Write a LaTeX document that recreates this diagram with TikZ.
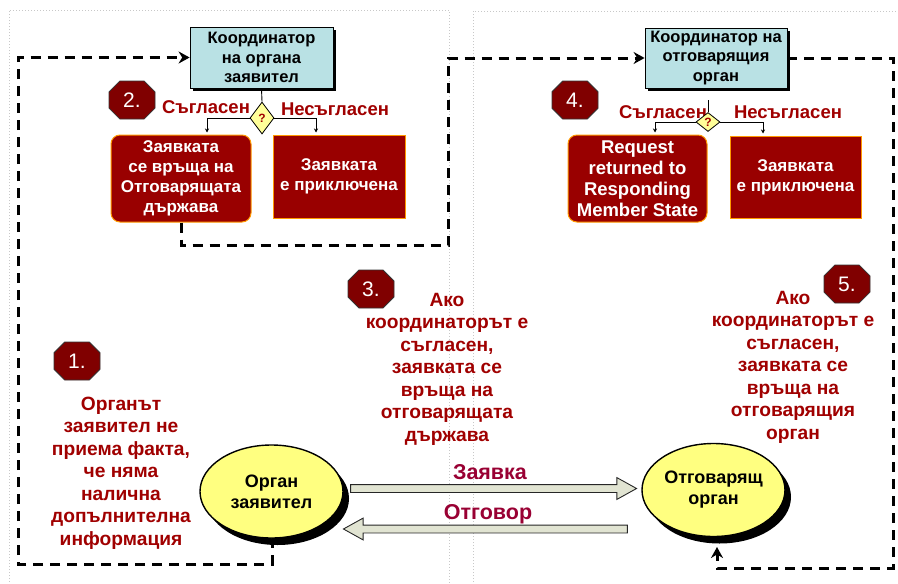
\documentclass[tikz,border=0pt]{standalone}
\usepackage{fontspec}
\setmainfont{Liberation Sans}
\usetikzlibrary{positioning,shapes.geometric,shapes.misc,shapes.arrows,shadows,arrows.meta}

\definecolor{boxred}{RGB}{153,0,0}
\definecolor{octred}{RGB}{128,0,0}
\definecolor{txtred}{RGB}{160,0,0}
\definecolor{arrlabel}{RGB}{153,0,51}
\definecolor{coordblue}{RGB}{185,225,228}
\definecolor{orgyellow}{RGB}{255,255,128}
\definecolor{qyellow}{RGB}{255,255,153}
\definecolor{arrfill}{RGB}{225,228,210}
\definecolor{panelgray}{RGB}{200,200,200}
\definecolor{boxedge}{RGB}{255,153,0}

\tikzset{
  panel/.style={draw=panelgray, line width=1pt, dotted},
  loopline/.style={line width=3pt, dash pattern=on 10pt off 7pt},
  looptip/.style={-{Stealth[length=11pt,width=12pt]}},
  coordbox/.style={draw, line width=0.8pt, fill=coordblue, minimum width=143pt,
    minimum height=61pt, align=center, inner sep=2pt,
    font=\fontsize{16.5}{19.5}\selectfont\bfseries,
    drop shadow={shadow xshift=3pt, shadow yshift=-3pt, fill=black, opacity=1}},
  agreebox/.style={draw=boxedge, line width=1pt, fill=boxred, rounded corners=9pt,
    text=white, align=center, minimum width=140pt, minimum height=87pt, inner sep=1pt,
    font=\fontsize{17}{20}\selectfont\bfseries},
  closedbox/.style={draw=boxedge, line width=1pt, fill=boxred, text=white,
    align=center, minimum width=132pt, minimum height=83pt, inner sep=1pt,
    font=\fontsize{17}{20}\selectfont\bfseries},
  question/.style={diamond, draw, line width=0.8pt, fill=qyellow, text=txtred,
    minimum width=24pt, inner sep=0pt, font=\fontsize{12}{12}\selectfont\bfseries},
  decline/.style={line width=0.9pt},
  dectip/.style={-{Stealth[length=4pt,width=4pt]}, shorten >=2pt},
  choice/.style={text=txtred, inner sep=0pt, font=\fontsize{18.5}{20}\selectfont\bfseries},
  numoct/.style={chamfered rectangle, chamfered rectangle xsep=11pt, draw=black!80,
    line width=0.8pt, fill=octred, text=white, minimum width=46pt, minimum height=38pt,
    inner sep=0pt, font=\fontsize{21}{21}\selectfont},
  note/.style={text=txtred, align=center, inner sep=0pt,
    font=\fontsize{19.2}{22.5}\selectfont\bfseries},
  organ/.style={ellipse, draw, line width=1.4pt, fill=orgyellow, minimum width=143pt,
    minimum height=93pt, align=center, inner sep=0pt,
    font=\fontsize{18}{21}\selectfont\bfseries,
    drop shadow={shadow xshift=6pt, shadow yshift=-7pt, fill=black, opacity=1}},
  blockarr/.style={single arrow, draw=black!85, fill=arrfill, line width=0.9pt,
    minimum height=286pt, inner xsep=0pt, inner ysep=3.5pt,
    single arrow head extend=7pt, single arrow tip angle=58},
  arrlab/.style={text=arrlabel, inner sep=0pt, font=\fontsize{21.5}{21.5}\selectfont\bfseries}
}

\begin{document}
\begin{tikzpicture}[x=1pt,y=-1pt]
  \useasboundingbox (0,0) rectangle (898,584);
  % panels
  \draw[panel] (9,600) -- (9,10) -- (449,10) -- (449,600);
  \draw[panel] (473,600) -- (473,11) -- (910,11);

  % coordinators and decisions
  \node[coordbox] (coordL) at (261.5,57.5) {Координатор\\на органа\\заявител};
  \node[coordbox, minimum width=142pt, minimum height=60pt] (coordR) at (716,58) {Координатор на\\отговарящия\\орган};

  \node[agreebox] (agreeL) at (181,178.5) {Заявката\\се връща на\\Отговарящата\\държава};
  \node[closedbox] (closedL) at (339,176.5) {Заявката\\е приключена};
  \node[agreebox, minimum width=139pt, font=\fontsize{18.5}{21}\selectfont\bfseries] (agreeR) at (637.5,178.5) {Request\\returned to\\Responding\\Member State};
  \node[closedbox, minimum width=131pt, minimum height=82pt] (closedR) at (795.5,177) {Заявката\\е приключена};

  \node[choice] (yesL) at (206,107) {Съгласен};
  \node[choice] (noL) at (335,109) {Несъгласен};
  \node[choice] (yesR) at (663,112) {Съгласен};
  \node[choice] (noR) at (788,112) {Несъгласен};

  \node[question, minimum height=32pt] (qL) at (262,118) {?};
  \node[question, minimum height=19pt] (qR) at (708,122) {?};

  \draw[decline] (coordL.south) -- (qL.north);
  \draw[decline,dectip] (qL.west) -| ([xshift=26pt]agreeL.north);
  \draw[decline,dectip] (qL.east) -| ([xshift=-23pt]closedL.north);
  \draw[decline] (qR.north) -- ++(0,-12);
  \draw[decline,dectip] (qR.west) -| ([xshift=17.5pt]agreeR.north);
  \draw[decline,dectip] (qR.east) -| ([xshift=-32.5pt]closedR.north);

  % loops
  \coordinate (loopLbot) at (18,564);
  \coordinate (loopMid) at (448,245);
  \coordinate (loopRbot) at (893,568);
  \draw[loopline,looptip] (agreeL.south) |- (loopMid) |- (coordR.west);
  \draw[loopline,looptip] (272,538) |- (loopLbot) |- (coordL.west);
  \draw[loopline,looptip,shorten >=10pt] (coordR.east) -| (loopRbot) -| (717,537);

  % request and answer
  \node[blockarr] (reqArr) at (490,488.5) {};
  \node[blockarr, minimum height=284pt, shape border rotate=180] (ansArr) at (489,529) {};
  \node[arrlab] (reqLab) at (490,472) {Заявка};
  \node[arrlab] (ansLab) at (488,514) {Отговор};

  \node[organ] (orgL) at (271.5,491.5) {Орган\\заявител};
  \node[organ] (orgR) at (713.5,490) {Отговарящ\\орган};

  % steps
  \node[numoct] (num1) at (77,361) {1.};
  \node[numoct] (num2) at (132,100) {2.};
  \node[numoct] (num3) at (371,289) {3.};
  \node[numoct] (num4) at (575,100) {4.};
  \node[numoct] (num5) at (847,284) {5.};

  \node[note] (note1) at (121,473) {Органът\\заявител не\\приема факта,\\че няма\\налична\\допълнителна\\информация};
  \node[note] (note3) at (447,369) {Ако\\координаторът е\\съгласен,\\заявката се\\връща на\\отговарящата\\държава};
  \node[note] (note5) at (793,367) {Ако\\координаторът е\\съгласен,\\заявката се\\връща на\\отговарящия\\орган};
\end{tikzpicture}
\end{document}
